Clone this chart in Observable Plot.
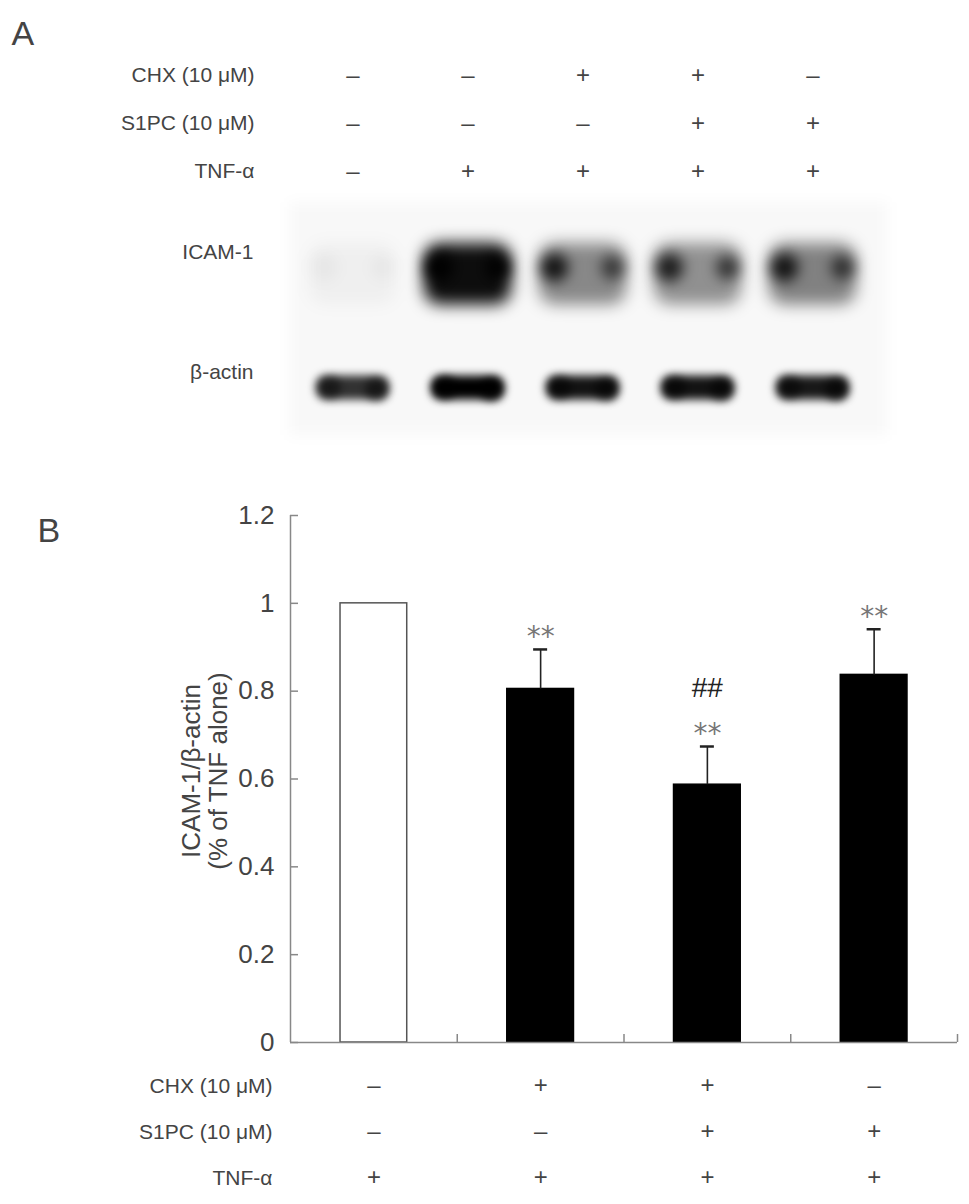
<!DOCTYPE html>
<html><head><meta charset="utf-8">
<script src="https://cdn.jsdelivr.net/npm/d3@7"></script>
<script src="https://cdn.jsdelivr.net/npm/@observablehq/plot@0.6"></script>
<style>body{margin:0;background:#fff;} svg{display:block;}</style>
</head><body><div id="fig"></div>
<script>
// ---------- Panel A data (western blot) ----------
const lanes = [1, 2, 3, 4, 5];
const rowLabelsA = ["CHX (10 μM)", "S1PC (10 μM)", "TNF-α"];
const chxA  = ["–", "–", "+", "+", "–"];
const s1pcA = ["–", "–", "–", "+", "+"];
const tnfA  = ["–", "+", "+", "+", "+"];
const blotLabels = ["ICAM-1", "β-actin"];
// relative band intensities read from the blot
const icamHalo  = [0.035, 0.95, 0.45, 0.42, 0.48];
const icamLeft  = [0.03, 1.0, 0.85, 0.8, 0.85];
const icamRight = [0.03, 1.0, 0.6, 0.65, 0.65];
const actinBand = [0.8, 1.0, 0.92, 0.92, 0.9];
const actinLeft  = [0.5, 0.7, 0.55, 0.55, 0.5];
const actinRight = [0.55, 0.7, 0.55, 0.55, 0.6];

// ---------- Panel B data (bar chart) ----------
const groups = ["TNF alone", "CHX + TNF", "CHX + S1PC + TNF", "S1PC + TNF"];
const means  = [1.0, 0.805, 0.587, 0.837];
const errs   = [0, 0.09, 0.087, 0.104];
const stars  = ["", "**", "**", "**"];
const hashes = ["", "", "##", ""];
const rowLabelsB = ["CHX (10 μM)", "S1PC (10 μM)", "TNF-α"];
const chxB  = ["–", "+", "+", "–"];
const s1pcB = ["–", "–", "+", "+"];
const tnfB  = ["+", "+", "+", "+"];
const yTicks = [0, 0.2, 0.4, 0.6, 0.8, 1.0, 1.2];
const yTitle = "ICAM-1/β-actin\n(% of TNF alone)";

const FONT = "'Liberation Sans', Arial, Helvetica, sans-serif";
const TXT = "#444";
const LABEL = 21, SYM = 24, TICK = 26, LETTER = 34;

// ================= Panel A =================
const rowsA = [chxA, s1pcA, tnfA];
const ICAM_ROW = 4, ACTIN_ROW = 6.5;
const symA = rowsA.flatMap((arr, r) => arr.map((s, i) => ({lane: lanes[i], row: r, s})));
const blot = lanes.map((l, i) => ({lane: l, halo: icamHalo[i], left: icamLeft[i], right: icamRight[i],
  actin: actinBand[i], aL: actinLeft[i], aR: actinRight[i]}));

// near-black tag colours identify each blurred layer
const C_BG = "#000001", C_HALO = "#000002", C_SPOT = "#000003", C_ACT = "#010000";

const svgA = Plot.plot({
  width: 969, height: 460,
  marginTop: 0, marginBottom: 0, marginLeft: 0, marginRight: 0,
  x: {domain: [0.5, 5.5], range: [295, 870], axis: null},
  y: {domain: [0, 6.5], range: [75, 387], axis: null},
  style: {fontFamily: FONT, fontSize: LABEL + "px", color: TXT, background: "#fff"},
  marks: [
    Plot.rect([{x1: 0.45, x2: 5.65, y1: 2.65, y2: 7.5}], {x1: "x1", x2: "x2", y1: "y1", y2: "y2", fill: C_BG, fillOpacity: 0.028}),
    Plot.rect(blot, {x1: d => d.lane - 0.38, x2: d => d.lane + 0.38, y1: ICAM_ROW - 0.5, y2: ICAM_ROW + 0.78, fill: C_HALO, fillOpacity: d => d.halo, rx: 16}),
    Plot.dot(blot, {x: d => d.lane - 0.25, y: ICAM_ROW, r: 14, fill: C_SPOT, fillOpacity: d => d.left}),
    Plot.dot(blot, {x: d => d.lane + 0.26, y: ICAM_ROW, r: 12, fill: C_SPOT, fillOpacity: d => d.right}),
    Plot.rect(blot, {x1: d => d.lane - 0.32, x2: d => d.lane + 0.32, y1: ACTIN_ROW - 0.24, y2: ACTIN_ROW + 0.26, fill: C_ACT, fillOpacity: d => d.actin, rx: 10}),
    Plot.dot(blot, {x: d => d.lane - 0.2, y: ACTIN_ROW, r: 11, fill: C_ACT, fillOpacity: d => d.aL}),
    Plot.dot(blot, {x: d => d.lane + 0.2, y: ACTIN_ROW + 0.04, r: 11, fill: C_ACT, fillOpacity: d => d.aR}),
    Plot.text(symA, {x: "lane", y: "row", text: "s", fontSize: SYM, fill: "#444"}),
    Plot.text(rowLabelsA, {y: (d, i) => i, frameAnchor: "left", dx: 254, textAnchor: "end", fill: TXT}),
    Plot.text(blotLabels, {y: (d, i) => i === 0 ? ICAM_ROW : ACTIN_ROW, frameAnchor: "left", dx: 253, dy: -15, textAnchor: "end", fill: TXT}),
    Plot.text(["A"], {frameAnchor: "top-left", dx: 11, dy: 20, textAnchor: "start", fontSize: LETTER, fill: TXT})
  ]
});

const sA = d3.select(svgA);
sA.insert("defs", ":first-child").html(
  '<filter id="bBg" x="-20%" y="-20%" width="140%" height="140%"><feGaussianBlur stdDeviation="7"/></filter>' +
  '<filter id="bHalo" x="-50%" y="-50%" width="200%" height="200%"><feGaussianBlur stdDeviation="8"/></filter>' +
  '<filter id="bSpot" x="-50%" y="-50%" width="200%" height="200%"><feGaussianBlur stdDeviation="7"/></filter>' +
  '<filter id="bActin" x="-50%" y="-50%" width="200%" height="200%"><feGaussianBlur stdDeviation="4"/></filter>'
);
const tagBlur = {[C_BG]: "bBg", [C_HALO]: "bHalo", [C_SPOT]: "bSpot", [C_ACT]: "bActin"};
sA.selectAll("g").each(function () {
  const f = (this.getAttribute("fill") || "").toLowerCase();
  if (tagBlur[f]) this.setAttribute("filter", `url(#${tagBlur[f]})`);
});

// ================= Panel B =================
const W = 969, H = 744, mT = 55, mB = 162, mL = 290, mR = 12;
const pxPerX = (W - mL - mR) / groups.length;
const pxPerY = (H - mT - mB) / 1.2;
const BAR_PAD = 0.3, CAP = 7 / pxPerX, TICK_X = 8 / pxPerX, TICK_Y = 8 / pxPerY;

const data = groups.map((g, i) => ({
  i, g, mean: means[i], err: errs[i], top: means[i] + errs[i],
  star: stars[i], hash: hashes[i],
  control: chxB[i] === "–" && s1pcB[i] === "–"
}));
const withErr = data.filter(d => d.err > 0);
const rowsB = [chxB, s1pcB, tnfB];
const fmt = d => String(+d.toFixed(1));

const tableMarks = rowsB.flatMap((arr, r) => [
  Plot.text(arr, {x: (d, i) => i + 0.5, frameAnchor: "bottom", dy: 50 + 46 * r, fontSize: SYM, fill: "#444"}),
  Plot.text([rowLabelsB[r]], {frameAnchor: "bottom-left", dx: -18, dy: 50 + 46 * r, textAnchor: "end", fill: TXT})
]);

const svgB = Plot.plot({
  width: W, height: H, marginTop: mT, marginBottom: mB, marginLeft: mL, marginRight: mR,
  x: {domain: [0, groups.length], axis: null},
  y: {domain: [0, 1.2], axis: null},
  style: {fontFamily: FONT, fontSize: LABEL + "px", color: TXT, background: "#fff"},
  marks: [
    Plot.rectY(data, {x1: d => d.i + BAR_PAD, x2: d => d.i + 1 - BAR_PAD, y: "mean",
      fill: d => d.control ? "#fff" : "#000", stroke: d => d.control ? "#555" : "#000", strokeWidth: 1.5}),
    Plot.ruleX(withErr, {x: d => d.i + 0.5, y1: "mean", y2: "top", stroke: "#222", strokeWidth: 1.6}),
    Plot.ruleY(withErr, {y: "top", x1: d => d.i + 0.5 - CAP, x2: d => d.i + 0.5 + CAP, stroke: "#222", strokeWidth: 2.5}),
    Plot.text(data, {x: d => d.i + 0.5, y: "top", text: "star", dy: -12, fontSize: 28, fill: "#777", fontFamily: "'DejaVu Sans', sans-serif"}),
    Plot.text(data, {x: d => d.i + 0.5, y: "top", text: "hash", dy: -58, fontSize: 28, fill: "#222"}),
    Plot.ruleX([0], {stroke: "#888", strokeWidth: 1.5}),
    Plot.ruleY([0], {stroke: "#888", strokeWidth: 1.5}),
    Plot.ruleY(yTicks, {y: d => d, x1: 0, x2: TICK_X, stroke: "#888", strokeWidth: 1.5}),
    Plot.ruleX([1, 2, 3, 4], {x: d => d, y1: 0, y2: TICK_Y, stroke: "#888", strokeWidth: 1.5}),
    Plot.text(yTicks, {y: d => d, text: fmt, frameAnchor: "left", dx: -16, textAnchor: "end", fontSize: TICK, fill: "#444"}),
    Plot.text([yTitle], {frameAnchor: "left", dx: -86, dy: -8, rotate: -90, textAnchor: "middle", fontSize: 26, lineHeight: 1.05, fill: "#444"}),
    Plot.text(["B"], {frameAnchor: "top-left", dx: 37 - mL, dy: 2, textAnchor: "start", fontSize: LETTER, fill: TXT}),
    ...tableMarks
  ]
});

document.getElementById("fig").append(svgA, svgB);
</script>
</body></html>
